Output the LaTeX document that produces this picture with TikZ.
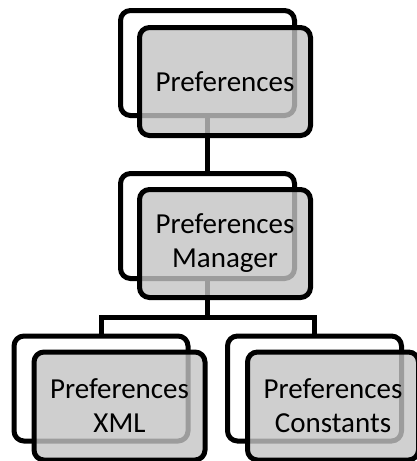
\documentclass[tikz,border=0pt]{standalone}
\usepackage{fontspec}
\setmainfont{Carlito}
\begin{document}
\begin{tikzpicture}[x=1pt,y=-1pt,
  backbox/.style={draw=black,line width=5pt,rounded corners=10pt,fill=white,
    minimum width=174pt,minimum height=105pt,inner sep=0pt},
  frontbox/.style={draw=black,line width=5pt,rounded corners=10pt,fill=black!23,
    fill opacity=0.8,text opacity=1,minimum width=171pt,minimum height=108pt,
    inner sep=0pt,align=center,font=\fontsize{29}{34}\selectfont},
  link/.style={draw=black,line width=5pt}]
\useasboundingbox (0,0) rectangle (416,461);
\coordinate (tbc) at (207.5,63);
\coordinate (mbc) at (207.5,226);
\coordinate (lbc) at (101,388.5);
\coordinate (rbc) at (314.5,388.5);
\coordinate (bus) at (207.5,317);
% back boxes
\node[backbox] (tb) at (tbc) {};
\node[backbox] (mb) at (mbc) {};
\node[backbox] (lb) at (lbc) {};
\node[backbox] (rb) at (rbc) {};
% connectors
\draw[link] (tb.south) -- (mb.north);
\draw[link] (mb.south) -- (bus) -| (lb.north);
\draw[link] (bus) -| (rb.north);
% front boxes
\node[frontbox] (tf) at (225,81.5) {Preferences};
\node[frontbox] (mf) at (225,243.5) {Preferences\\Manager};
\node[frontbox] (lf) at (119.5,406) {Preferences\\XML};
\node[frontbox] (rf) at (333,406) {Preferences\\Constants};
\end{tikzpicture}
\end{document}
